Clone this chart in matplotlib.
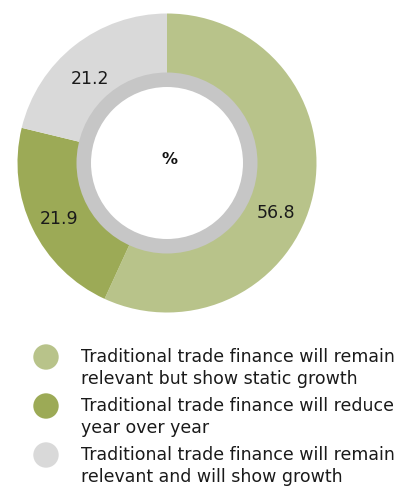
import matplotlib
matplotlib.use("Agg")
import matplotlib.pyplot as plt
from matplotlib.patches import Circle

values = [56.8, 21.9, 21.2]
value_labels = ["56.8", "21.9", "21.2"]
colors = ["#b8c38a", "#9caa56", "#d9d9d9"]
legend_labels = [
    "Traditional trade finance will remain\nrelevant but show static growth",
    "Traditional trade finance will reduce\nyear over year",
    "Traditional trade finance will remain\nrelevant and will show growth",
]

W, H = 408, 486
fig = plt.figure(figsize=(W / 100, H / 100), dpi=100)
ax = fig.add_axes([0, 0, 1, 1])

FONT = "DejaVu Sans"
cx, cy = 167, H - 163
R = 149.5
ax.pie(values, colors=colors, startangle=90, counterclock=False,
       radius=R, center=(cx, cy), wedgeprops=dict(linewidth=0),
       frame=True)
ax.set_xlim(0, W)
ax.set_ylim(0, H)
ax.set_aspect("equal")
ax.axis("off")
# grey ring and white hole
ax.add_patch(Circle((cx, cy), 90.5, color="#c6c6c6", lw=0, zorder=3))
ax.add_patch(Circle((cx, cy), 76, color="white", lw=0, zorder=4))
ax.text(cx + 2, cy + 3, "%", ha="center", va="center", fontsize=11.5,
        fontweight="bold", family=FONT, color="#111111", zorder=5)

label_pos = [(276, H - 213), (59, H - 219), (90, H - 79)]
for (x, y), t in zip(label_pos, value_labels):
    ax.text(x, y, t, ha="center", va="center", fontsize=12.5, family=FONT,
            color="#1a1a1a", zorder=5)

leg_y = [357, 406, 455]
for c, lab, y in zip(colors, legend_labels, leg_y):
    ax.add_patch(Circle((46, H - y), 12.7, color=c, lw=0))
    ax.text(81, H - y - 11, lab, ha="left", va="center", fontsize=12.55,
            family=FONT, color="#1a1a1a", linespacing=1.25)

fig.savefig("out.png", dpi=100)
